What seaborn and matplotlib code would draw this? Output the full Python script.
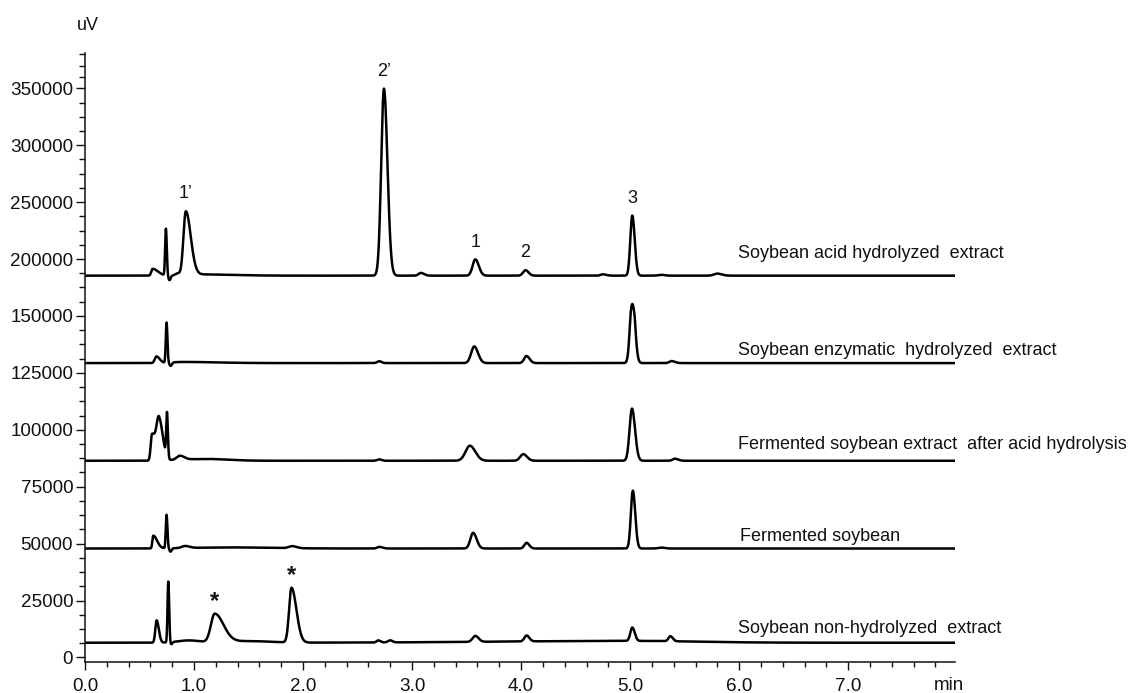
import numpy as np
import pandas as pd
import matplotlib
matplotlib.use("Agg")
import matplotlib.pyplot as plt
import seaborn as sns
from matplotlib.ticker import FixedLocator, FixedFormatter, MultipleLocator

# --- peak tables (retention time min, height uV, left/right width min)
samples = ["Soybean acid hydrolyzed  extract",
           "Soybean enzymatic  hydrolyzed  extract",
           "Fermented soybean extract  after acid hydrolysis",
           "Fermented soybean",
           "Soybean non-hydrolyzed  extract"]
baselines = [185400, 129300, 86400, 47850, 6470]

acid_rt = [0.62, 0.742, 0.775, 0.85, 0.925, 1.05, 2.742, 3.08, 3.58, 4.04, 4.75, 5.02, 5.29, 5.80]
acid_h = [6000, 41000, -4000, 2000, 56500, 1100, 164300, 2400, 14300, 4800, 1200, 52800, 700, 1800]
acid_wl = [0.012, 0.007, 0.01, 0.02, 0.022, 0.05, 0.025, 0.02, 0.025, 0.022, 0.02, 0.018, 0.03, 0.03]
acid_wr = [0.05, 0.008, 0.01, 0.02, 0.045, 0.3, 0.032, 0.03, 0.032, 0.028, 0.03, 0.022, 0.03, 0.04]

enz_rt = [0.655, 0.748, 0.785, 0.9, 2.7, 3.57, 4.05, 5.02, 5.38]
enz_h = [2900, 17600, -1500, 500, 800, 7300, 3100, 31200, 900]
enz_wl = [0.015, 0.007, 0.01, 0.1, 0.02, 0.028, 0.022, 0.02, 0.02]
enz_wr = [0.03, 0.008, 0.012, 0.3, 0.02, 0.035, 0.028, 0.024, 0.03]

ferm_acid_rt = [0.615, 0.678, 0.752, 0.87, 1.1, 2.7, 3.53, 4.02, 5.017, 5.41]
ferm_acid_h = [11500, 18200, 19300, 1800, 800, 600, 6600, 2900, 22900, 900]
ferm_acid_wl = [0.012, 0.022, 0.007, 0.03, 0.2, 0.02, 0.04, 0.028, 0.022, 0.02]
ferm_acid_wr = [0.03, 0.035, 0.008, 0.04, 0.2, 0.02, 0.05, 0.034, 0.028, 0.03]

ferm_rt = [0.626, 0.748, 0.785, 0.917, 1.3, 1.9, 2.7, 3.56, 4.05, 5.025, 5.29]
ferm_h = [5600, 14700, -1500, 900, 500, 900, 700, 6900, 2500, 25400, 400]
ferm_wl = [0.008, 0.007, 0.01, 0.03, 0.3, 0.03, 0.02, 0.025, 0.02, 0.018, 0.03]
ferm_wr = [0.035, 0.008, 0.01, 0.04, 0.4, 0.04, 0.03, 0.032, 0.025, 0.022, 0.03]

non_rt = [0.657, 0.764, 0.79, 0.95, 1.19, 1.5, 1.894, 2.69, 2.8, 3.58, 4.05, 5.0, 5.02, 5.37]
non_h = [9800, 26700, -1000, 1000, 12500, 700, 24000, 900, 900, 2600, 2600, 800, 5900, 2200]
non_wl = [0.012, 0.007, 0.01, 0.1, 0.035, 0.2, 0.022, 0.015, 0.02, 0.025, 0.02, 1.2, 0.018, 0.018]
non_wr = [0.02, 0.008, 0.01, 0.1, 0.08, 0.2, 0.045, 0.02, 0.02, 0.03, 0.025, 0.6, 0.022, 0.022]

# labelled peaks: (text, sample index, retention time)
peak_text = ["1\u2019", "2\u2019", "1", "2", "3", "*", "*"]
peak_sample = [0, 0, 0, 0, 0, 4, 4]
peak_rt = [0.925, 2.742, 3.58, 4.04, 5.02, 1.19, 1.894]

y_major = [0, 25000, 50000, 75000, 100000, 125000, 150000, 200000, 250000, 300000, 350000]


def trace(t, base, rt, h, wl, wr):
    y = np.full_like(t, float(base))
    for c, a, sl, sr in zip(rt, h, wl, wr):
        s = np.where(t < c, sl, sr)
        y += a * np.exp(-0.5 * ((t - c) / s) ** 2)
    return y


def fwd(y):
    y = np.asarray(y, dtype=float)
    return np.where(y <= 150000, y / 25000, 6 + (y - 150000) / 50000)


def inv(v):
    v = np.asarray(v, dtype=float)
    return np.where(v <= 6, v * 25000, 150000 + (v - 6) * 50000)


t = np.linspace(0, 8.0, 8001)
tables = [(acid_rt, acid_h, acid_wl, acid_wr),
          (enz_rt, enz_h, enz_wl, enz_wr),
          (ferm_acid_rt, ferm_acid_h, ferm_acid_wl, ferm_acid_wr),
          (ferm_rt, ferm_h, ferm_wl, ferm_wr),
          (non_rt, non_h, non_wl, non_wr)]
curves = [trace(t, b, *tab) for b, tab in zip(baselines, tables)]

df = pd.concat([pd.DataFrame({"time": t, "signal": c, "sample": s})
                for c, s in zip(curves, samples)], ignore_index=True)

sns.set_theme(style="ticks")
plt.rcParams["font.family"] = ["Liberation Sans", "DejaVu Sans"]

fig = plt.figure(figsize=(11.28, 6.93), dpi=100)
ax = fig.add_axes([85 / 1128, 31 / 693, 870 / 1128, 609 / 693])

sns.lineplot(data=df, x="time", y="signal", units="sample", estimator=None,
             color="black", linewidth=1.8, ax=ax, legend=False)

ax.set_yscale("function", functions=(fwd, inv))
ax.set_xlim(0, 7.98)
ax.set_ylim(-2000, 381000)

# y ticks: 4 minor between each major
minor = []
for a, b in zip(y_major[:-1], y_major[1:]):
    minor += list(np.linspace(a, b, 5)[1:-1])
minor += [360000, 370000, 380000]
ax.yaxis.set_major_locator(FixedLocator(y_major))
ax.yaxis.set_major_formatter(FixedFormatter([str(v) for v in y_major]))
ax.yaxis.set_minor_locator(FixedLocator(minor))

ax.xaxis.set_major_locator(FixedLocator(np.arange(0, 8)))
ax.xaxis.set_major_formatter(FixedFormatter([f"{v:.1f}" for v in range(8)]))
ax.xaxis.set_minor_locator(MultipleLocator(0.2))

ax.tick_params(axis="both", which="major", labelsize=13.6, colors="#111111", width=1.0)
ax.tick_params(axis="y", which="major", length=6.5, pad=2)
ax.tick_params(axis="y", which="minor", length=4, width=1.0, color="#111111")
ax.tick_params(axis="x", which="major", length=6, pad=5.5)
ax.tick_params(axis="x", which="minor", length=3.6, width=1.0, color="#111111")
ax.set_xlabel("")
ax.set_ylabel("")
sns.despine(ax=ax)
for sp in ("left", "bottom"):
    ax.spines[sp].set_linewidth(1.1)
    ax.spines[sp].set_color("#111111")

fig.text(949 / 1128, 3 / 693, "min", ha="center", va="baseline", fontsize=13.6, color="#111111")
fig.text(88 / 1128, 1 - 25 / 693, "uV", ha="center", va="center", fontsize=13, color="#111111")

# sample names beside each trace
name_x = [5.985, 5.985, 5.985, 6.01, 5.985]
name_dy = [22, 13, 16, 12, 14]
for s, b, x, dy in zip(samples, baselines, name_x, name_dy):
    ax.annotate(s, xy=(x, b), xytext=(0, dy * 0.72), textcoords="offset points",
                ha="left", va="center", fontsize=13, color="#111111", annotation_clip=False)

# peak labels
for txt, si, rt in zip(peak_text, peak_sample, peak_rt):
    i = np.argmin(np.abs(t - rt))
    top = curves[si][max(i - 30, 0):i + 30].max()
    if txt == "*":
        ax.annotate(txt, xy=(rt, top), xytext=(0, 9), textcoords="offset points",
                    ha="center", va="center", fontsize=17, fontweight="bold", color="#111111")
    else:
        ax.annotate(txt, xy=(rt, top), xytext=(0, 12.5), textcoords="offset points",
                    ha="center", va="center", fontsize=13, color="#111111")

fig.savefig("out.png", dpi=100)
